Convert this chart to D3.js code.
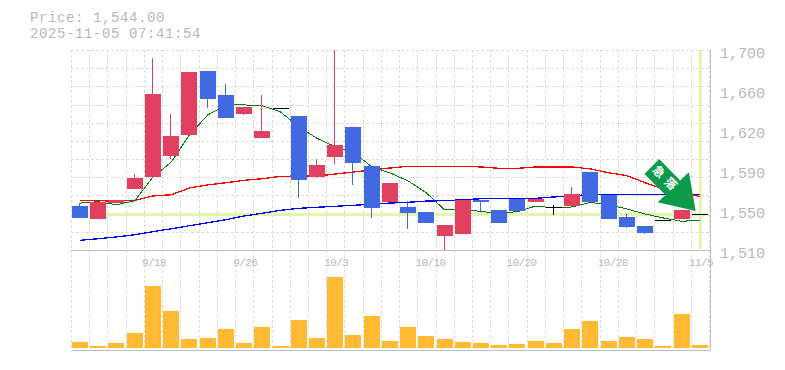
<!DOCTYPE html>
<html>
<head>
<meta charset="utf-8">
<script src="https://cdn.jsdelivr.net/npm/d3@7"></script>
<style>
    html, body { margin: 0; padding: 0; background: #fff; overflow: hidden; }
    text { font-family: "Liberation Mono", monospace; fill: #b8b8b8; }
</style>
</head>
<body>
<svg id="chartsvg" width="785" height="370"></svg>
<script>
const dates = ["9/11", "9/12", "9/16", "9/17", "9/18", "9/19", "9/22", "9/24", "9/25", "9/26",
    "9/29", "9/30", "10/1", "10/2", "10/3", "10/6", "10/7", "10/8", "10/9", "10/10",
    "10/14", "10/15", "10/16", "10/17", "10/20", "10/21", "10/22", "10/23", "10/24", "10/28",
    "10/29", "10/30", "10/31", "11/4", "11/5"];
const dateTicks = ["9/18", "9/26", "10/3", "10/10", "10/20", "10/28", "11/5"];
const priceTicks = [1700, 1662, 1624, 1586, 1548, 1510];
const priceLabels = ["1,700", "1,660", "1,620", "1,590", "1,550", "1,510"];

const opens = [1551.8, 1539.5, 1554.7, 1568.0, 1579.6, 1599.3, 1619.3, 1680.1, 1657.3, 1639.5,
    1616.4, 1644.6, 1637.3, 1579.4, 1598.4, 1626.9, 1589.8, 1555.6, 1550.9, 1546.1,
    1523.3, 1525.2, 1557.5, 1548.0, 1558.5, 1555.6, 1550.6, 1551.8, 1584.1, 1562.2,
    1541.4, 1532.8, 1538.5, 1539.5, 1544.0];
const closes = [1540.4, 1555.6, 1557.5, 1578.4, 1658.2, 1618.3, 1679.1, 1653.7, 1635.7, 1645.9,
    1623.1, 1644.6, 1576.5, 1590.8, 1609.8, 1592.7, 1549.9, 1573.7, 1545.2, 1535.6,
    1533.8, 1557.5, 1555.6, 1535.6, 1547.1, 1558.5, 1550.6, 1563.2, 1555.6, 1539.5,
    1531.9, 1526.2, 1538.5, 1548.0, 1544.0];
const highs = [1554.9, 1555.6, 1557.5, 1582.2, 1692.4, 1639.2, 1679.1, 1680.1, 1667.7, 1645.9,
    1657.3, 1644.6, 1637.3, 1596.5, 1700.0, 1626.9, 1589.8, 1573.7, 1556.6, 1546.1,
    1533.8, 1557.5, 1557.5, 1548.0, 1558.5, 1558.5, 1552.7, 1569.9, 1584.1, 1562.2,
    1544.2, 1532.8, 1538.5, 1548.0, 1544.0];
const lows = [1540.4, 1539.5, 1554.7, 1568.0, 1579.6, 1596.5, 1619.3, 1644.9, 1635.7, 1638.3,
    1616.4, 1644.6, 1559.7, 1578.4, 1591.7, 1571.8, 1540.4, 1555.6, 1530.0, 1535.6,
    1510.0, 1525.2, 1547.1, 1535.6, 1547.1, 1555.6, 1543.3, 1551.8, 1555.6, 1539.5,
    1530.9, 1525.2, 1538.5, 1539.5, 1544.0];

const maShort = [1554.6, 1555.9, 1553.0, 1556.8, 1579.4, 1593.6, 1619.3, 1638.3, 1647.8, 1647.8,
    1647.1, 1641.1, 1626.9, 1616.1, 1608.1, 1603.1, 1588.9, 1583.2, 1575.6, 1564.2,
    1548.0, 1549.2, 1546.4, 1545.2, 1546.4, 1551.8, 1549.9, 1550.9, 1555.3, 1552.8,
    1549.0, 1544.2, 1540.4, 1537.3, 1538.2];
const maMiddle = [1556.8, 1556.8, 1556.5, 1557.2, 1561.3, 1562.5, 1568.9, 1571.8, 1573.9, 1576.2,
    1577.7, 1580.0, 1580.3, 1580.3, 1582.2, 1584.1, 1586.0, 1587.9, 1589.5, 1589.5,
    1589.5, 1589.5, 1588.9, 1587.6, 1587.6, 1588.9, 1588.9, 1588.9, 1587.0, 1583.4,
    1580.6, 1573.9, 1568.0, 1565.1, 1560.8];
const maLong = [1519.2, 1520.7, 1522.4, 1524.5, 1527.4, 1530.2, 1533.1, 1535.9, 1538.8, 1542.3,
    1544.9, 1547.7, 1549.6, 1550.6, 1551.5, 1552.5, 1553.4, 1554.6, 1555.3, 1556.5,
    1556.8, 1557.8, 1558.7, 1559.1, 1558.9, 1559.1, 1560.4, 1561.3, 1562.9, 1562.9,
    1562.9, 1562.9, 1562.9, 1562.9, 1562.9];

const volumes = [60, 20, 50, 150, 620, 370, 90, 100, 190, 50,
    210, 20, 280, 100, 710, 130, 320, 70, 210, 120,
    90, 60, 50, 30, 40, 70, 50, 190, 270, 70,
    110, 90, 20, 340, 30];

const lastPrice = 1544;
const arrowDate = "11/4";

const svg = d3.select("#chartsvg");

// scales
const x = d3.scaleBand().domain(dates).range([71, 709]);
const y = d3.scaleLinear().domain([1510, 1700]).range([250, 50]);
const yVol = d3.scaleLinear().domain([0, 710]).range([348, 277]);
const mid = d => x(d) + x.bandwidth() / 2;
const snap = v => Math.round(v) + 0.5;

// grid
const grid = svg.append("g")
    .attr("stroke", "#ddd")
    .attr("stroke-dasharray", "3 2")
    .attr("shape-rendering", "crispEdges");
grid.selectAll(".v").data(dates.concat("end")).enter().append("line")
    .attr("x1", d => snap(d === "end" ? 708.5 : x(d)))
    .attr("x2", d => snap(d === "end" ? 708.5 : x(d)))
    .attr("y1", 50).attr("y2", 350);
grid.selectAll(".h").data(d3.range(12)).enter().append("line")
    .attr("x1", 71).attr("x2", 709)
    .attr("y1", i => snap(50 + i * 200 / 11))
    .attr("y2", i => snap(50 + i * 200 / 11));

// last price cross
svg.append("rect").attr("x", x(dates[0]) + 9).attr("width", 709 - 80)
    .attr("y", Math.round(y(lastPrice)) - 1).attr("height", 3).attr("fill", "#e3f6ab");
svg.append("rect").attr("x", Math.round(mid("11/5")) - 1).attr("width", 3)
    .attr("y", 50).attr("height", 199).attr("fill", "#e3f6ab");

// moving averages
const line = d3.line().x((d, i) => mid(dates[i])).y(d => y(d));
[[maLong, "#00f", 1.3], [maMiddle, "#f00", 1.3], [maShort, "#008000", 1]].forEach(s => {
    svg.append("path").attr("d", line(s[0]))
        .attr("fill", "none").attr("stroke", s[1]).attr("stroke-width", s[2])
        .attr("shape-rendering", "crispEdges");
});

// candles
const candleColor = i => closes[i] > opens[i] ? "#e24060" : closes[i] < opens[i] ? "#4169e1" : "#000";
const candles = svg.append("g").attr("shape-rendering", "crispEdges");
dates.forEach((d, i) => {
    const left = Math.round(x(d)) + 1;
    candles.append("line")
        .attr("x1", left + 7.5).attr("x2", left + 7.5)
        .attr("y1", y(highs[i])).attr("y2", y(lows[i]))
        .attr("stroke", candleColor(i));
    const top = Math.round(y(Math.max(opens[i], closes[i])));
    const bottom = Math.round(y(Math.min(opens[i], closes[i])));
    candles.append("rect")
        .attr("x", left).attr("width", 16)
        .attr("y", top).attr("height", Math.max(bottom - top, 1))
        .attr("fill", candleColor(i));
});

// volume
svg.append("g").selectAll("rect").data(volumes).enter().append("rect")
    .attr("x", (d, i) => Math.round(x(dates[i])) + 1)
    .attr("width", 16)
    .attr("y", d => yVol(d))
    .attr("height", d => yVol(0) - yVol(d))
    .attr("fill", "#ffb933");

// frame
const frame = svg.append("g").attr("stroke", "#c0c0c0").attr("shape-rendering", "crispEdges");
frame.append("line").attr("x1", 71).attr("x2", 710).attr("y1", 250.5).attr("y2", 250.5);
frame.append("line").attr("x1", 71).attr("x2", 710).attr("y1", 350.5).attr("y2", 350.5);
frame.append("line").attr("x1", 710.5).attr("x2", 710.5).attr("y1", 50).attr("y2", 351);

// axes
const xAxis = svg.append("g").attr("transform", "translate(0,250)")
    .call(d3.axisBottom(x).tickValues(dateTicks).tickSize(0));
xAxis.select(".domain").remove();
xAxis.selectAll("text")
    .attr("text-anchor", "start")
    .attr("dx", -11)
    .attr("y", 16)
    .attr("dy", 0)
    .style("font-family", '"Liberation Mono", monospace')
    .style("letter-spacing", "-0.6px")
    .style("font-size", "11px");

const yAxis = svg.append("g").attr("transform", "translate(710,0)")
    .call(d3.axisRight(y).tickValues(priceTicks).tickSize(0)
        .tickFormat((d, i) => priceLabels[i]));
yAxis.select(".domain").remove();
yAxis.selectAll("text")
    .attr("x", 10)
    .attr("dy", 7)
    .style("font-family", '"Liberation Mono", monospace')
    .style("font-size", "15px");

// header
svg.append("text").attr("x", 30).attr("y", 22).style("font-size", "14px").style("letter-spacing", "0.6px").text("Price: 1,544.00");
svg.append("text").attr("x", 30).attr("y", 38).style("font-size", "14px").style("letter-spacing", "0.6px").text("2025-11-05 07:41:54");

// arrow marker, offsets from the tip
const tipX = mid(arrowDate) + 14;
const tipY = y(1550) + 3;
const arrowShape = [[-36.5, -52], [-51.2, -37], [-30.2, -16], [-38, -8.7], [0, 0], [-6.8, -38.7], [-15.5, -30.5]];
svg.append("polygon")
    .attr("points", arrowShape.map(p => [tipX + p[0], tipY + p[1]].join(",")).join(" "))
    .attr("fill", "#0a9a4a");
svg.append("text")
    .attr("transform", `translate(${tipX - 29},${tipY - 31.5}) rotate(45)`)
    .attr("text-anchor", "middle")
    .attr("dy", 4.5)
    .style("font-family", '"Noto Sans CJK JP"')
    .style("font-size", "12px")
    .style("font-weight", "700")
    .style("letter-spacing", "5px")
    .style("fill", "#fff")
    .text("急落");
</script>
</body>
</html>
